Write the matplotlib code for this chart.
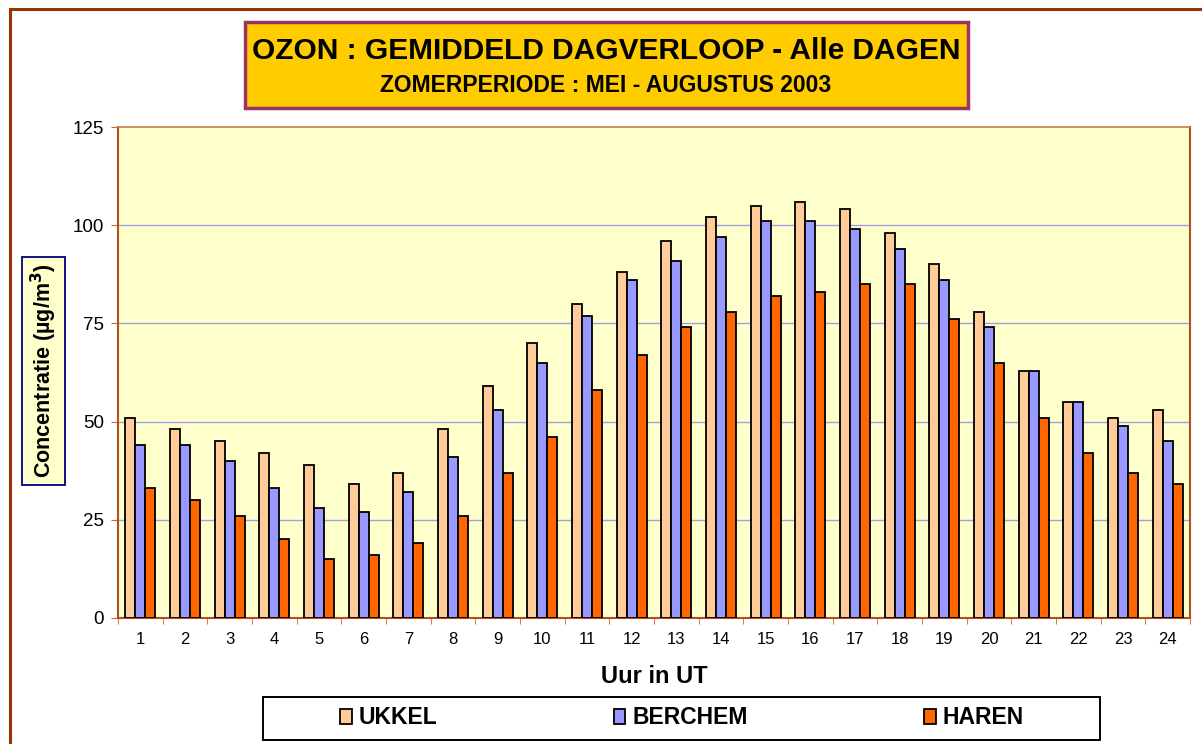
import matplotlib
matplotlib.use("Agg")
import matplotlib.pyplot as plt
import numpy as np
from matplotlib.patches import Rectangle

hours = [str(h) for h in range(1, 25)]
ukkel = [51, 48, 45, 42, 39, 34, 37, 48, 59, 70, 80, 88, 96, 102, 105, 106, 104, 98, 90, 78, 63, 55, 51, 53]
berchem = [44, 44, 40, 33, 28, 27, 32, 41, 53, 65, 77, 86, 91, 97, 101, 101, 99, 94, 86, 74, 63, 55, 49, 45]
haren = [33, 30, 26, 20, 15, 16, 19, 26, 37, 46, 58, 67, 74, 78, 82, 83, 85, 85, 76, 65, 51, 42, 37, 34]
series_names = ["UKKEL", "BERCHEM", "HAREN"]
yticks = [0, 25, 50, 75, 100, 125]

plt.rcParams['font.family'] = ['Liberation Sans', 'DejaVu Sans']

W, H = 1202, 744
fig = plt.figure(figsize=(W / 100, H / 100), dpi=100)
fig.patch.set_facecolor('white')

# outer frame
fig.patches.append(Rectangle((10 / W, -0.01), (W - 8) / W, (H - 9) / H + 0.01,
                             transform=fig.transFigure, fill=False,
                             edgecolor='#993300', linewidth=2.2, zorder=0))

ax = fig.add_axes([118 / W, (H - 618) / H, (1190 - 118) / W, (618 - 127) / H])
ax.set_facecolor('#FFFFCC')

x = np.arange(len(hours))
bw = 0.225
colors = ['#FFCC99', '#9999FF', '#FF6600']
for i, (vals, c, name) in enumerate(zip([ukkel, berchem, haren], colors, series_names)):
    ax.bar(x + (i - 1) * bw, vals, width=bw, color=c, edgecolor='black',
           linewidth=1.3, label=name, zorder=3)

ax.set_xlim(-0.5, len(hours) - 0.5)
ax.set_ylim(0, 125)
ax.set_yticks(yticks)
ax.set_yticklabels([str(v) for v in yticks], fontsize=13.5)
ax.set_xticks(x)
ax.set_xticklabels(hours, fontsize=12)
ax.tick_params(axis='x', length=0, pad=10)
ax.set_xticks(np.arange(-0.5, len(hours), 1), minor=True)
ax.tick_params(axis='x', which='minor', length=4, color='#CC6633', direction='out')
ax.tick_params(axis='y', length=5, color='#CC6633', direction='out', pad=5)
for v in yticks[1:-1]:
    ax.axhline(v, color='#A0A0E0', linewidth=1.0, zorder=1)
for s in ['left', 'bottom']:
    ax.spines[s].set_color('#B05020')
    ax.spines[s].set_linewidth(1.5)
ax.spines['top'].set_color('#C08050')
ax.spines['top'].set_linewidth(1.2)
ax.spines['right'].set_color('#B05020')
ax.spines['right'].set_linewidth(1.5)

ax.set_xlabel('Uur in UT', fontsize=17, fontweight='bold', labelpad=13)

# y label box
fig.text(43.5 / W, (H - 371) / H, 'Concentratie (µg/m$^\\mathbf{3}$)', rotation=90,
         ha='center', va='center', fontsize=15.5, fontweight='bold',
         bbox=dict(boxstyle='square,pad=0.3', facecolor='#FFFFCC', edgecolor='#000080', linewidth=1.3))

# title box
fig.patches.append(Rectangle((245 / W, (H - 108) / H), (968 - 245) / W, (108 - 22) / H,
                             transform=fig.transFigure, facecolor='#FFCC00',
                             edgecolor='#993366', linewidth=2.5, zorder=1))
fig.text(606 / W, (H - 51) / H, 'OZON : GEMIDDELD DAGVERLOOP - Alle DAGEN',
         ha='center', va='center', fontsize=21.5, fontweight='bold', zorder=2)
fig.text(606 / W, (H - 85) / H, 'ZOMERPERIODE : MEI - AUGUSTUS 2003',
         ha='center', va='center', fontsize=16.5, fontweight='bold', zorder=2)

# legend frame
fig.patches.append(Rectangle((263 / W, (H - 740) / H), (1100 - 263) / W, (740 - 697) / H,
                             transform=fig.transFigure, facecolor='white',
                             edgecolor='black', linewidth=1.4, zorder=1))
leg = fig.legend(loc='center', bbox_to_anchor=(682 / W, (H - 718) / H),
                 ncol=3, frameon=False, prop={'weight': 'bold', 'size': 16.5},
                 handlelength=0.5, handleheight=0.6, handletextpad=0.3,
                 columnspacing=7.7, borderpad=0.2)

fig.savefig('out.png', dpi=100)
